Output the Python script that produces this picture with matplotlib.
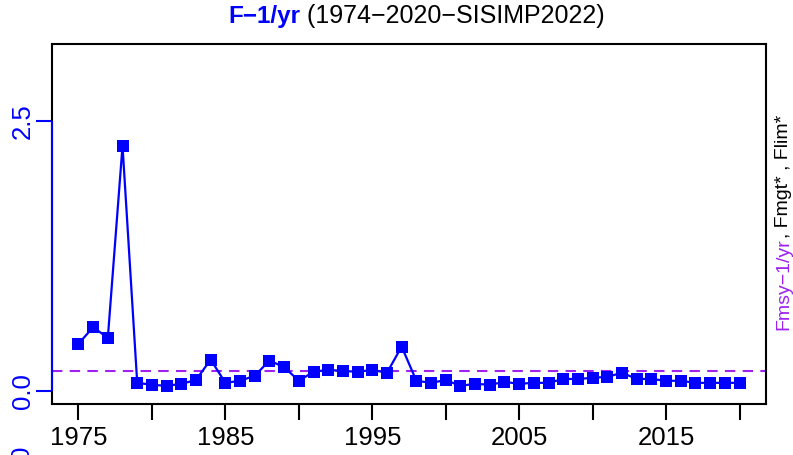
import matplotlib
matplotlib.use("Agg")
import matplotlib.pyplot as plt

plt.rcParams['font.family'] = ['Liberation Sans', 'DejaVu Sans']

# F by year
years = list(range(1975, 2021))
f_values = [0.435, 0.59, 0.49, 2.27, 0.074, 0.056, 0.046, 0.065, 0.10, 0.29,
            0.074, 0.093, 0.14, 0.28, 0.22, 0.093, 0.176, 0.194, 0.185, 0.176,
            0.194, 0.167, 0.41, 0.093, 0.074, 0.10, 0.046, 0.065, 0.056, 0.083,
            0.065, 0.074, 0.074, 0.11, 0.11, 0.12, 0.13, 0.167, 0.11, 0.11,
            0.093, 0.093, 0.074, 0.074, 0.074, 0.074]
fmsy = 0.185
yticks = [0.0, 2.5]
ytick_labels = ["0.0", "2.5"]
xticks = list(range(1975, 2021, 5))
xtick_labels = ["1975", "", "1985", "", "1995", "", "2005", "", "2015", ""]

blue = "#0000FF"
purple = "#A020F0"

fig = plt.figure(figsize=(7.93, 4.55), dpi=100)
ax = fig.add_axes([52/793, 1 - 404/455, (766 - 52)/793, (404 - 44)/455])

ax.axhline(fmsy, color=purple, lw=1.5, dashes=(5, 3.5), zorder=2)
ax.plot(years, f_values, color=blue, lw=1.6, marker='s', markersize=8.5,
        markeredgewidth=0, zorder=3)

ax.set_xlim(1973.2, 2021.8)
ax.set_ylim(-0.122, 3.213)

for s in ax.spines.values():
    s.set_linewidth(1.5)
    s.set_color("black")

ax.set_xticks(xticks)
ax.set_xticklabels(xtick_labels, fontsize=18.5)
ax.tick_params(axis='x', length=11.5, width=1.5, pad=4, colors='black')

ax.set_yticks(yticks)
ax.set_yticklabels(ytick_labels, fontsize=18.5, rotation=90, va='center', color=blue)
ax.tick_params(axis='y', length=11.5, width=1.5, pad=1, colors=blue)
# blue axis line over the box between the ticks
ax.plot([0, 0], [yticks[0], yticks[-1]], transform=ax.get_yaxis_transform(),
        color=blue, lw=1.5, clip_on=False, zorder=5, solid_capstyle='butt')

# title in two colours
fig.text(300/793, 1 - 16/455, "F−1/yr", color=blue, fontsize=17.5, fontweight='bold',
         ha='right', va='center')
fig.text(300/793, 1 - 16/455, " (1974−2020−SISIMP2022)", color='black', fontsize=18,
         ha='left', va='center')

# right side label
fig.text(788/793, 1 - 238/455, "Fmsy−1/yr", color=purple, fontsize=14, rotation=90,
         rotation_mode='anchor', ha='right', va='baseline')
fig.text(788/793, 1 - 238/455, ", Fmgt* , Flim*", color='black', fontsize=14,
         rotation=90, rotation_mode='anchor', ha='left', va='baseline')

# stray label cut off at the bottom left
fig.text(22/793, 1 - 453/455, "0", color=blue, fontsize=18.5, rotation=90,
         ha='center', va='center')

fig.savefig("out.png", dpi=100)
